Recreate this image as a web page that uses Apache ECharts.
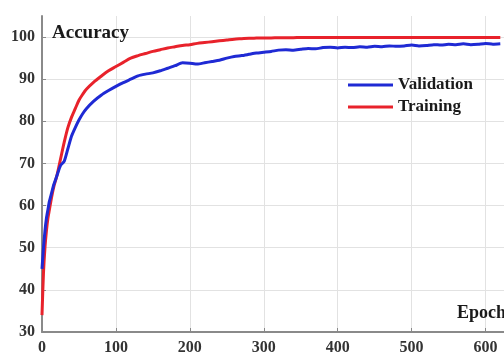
<!DOCTYPE html>
<html><head><meta charset="utf-8">
<script src="https://cdn.jsdelivr.net/npm/echarts@6/dist/echarts.min.js"></script>
<style>html,body{margin:0;padding:0;background:#fff}#c{width:504px;height:356px}</style>
</head><body><div id="c"></div>
<script>
var epochs = [0,2,4,6,8,10,13,16,20,25,30,35,40,45,50,55,60,70,80,90,100,110,120,130,140,150,160,170,180,190,200,210,220,230,240,250,260,270,280,290,300,310,320,330,340,350,360,370,380,390,400,410,420,430,440,450,460,470,480,490,500,510,520,530,540,550,560,570,580,590,600,610,620];
var trainAcc = [34,44,50,54,57,59,62,64.5,67,71,75,78.5,81,83,85,86.4,87.6,89.3,90.7,92,93,94,95,95.6,96.1,96.6,97,97.4,97.7,98,98.2,98.5,98.7,98.9,99.1,99.3,99.5,99.6,99.7,99.75,99.8,99.8,99.85,99.85,99.85,99.9,99.9,99.9,99.9,99.9,99.9,99.9,99.9,99.9,99.9,99.9,99.9,99.9,99.9,99.9,99.9,99.9,99.9,99.9,99.9,99.9,99.9,99.9,99.9,99.9,99.9,99.9,99.9];
var valAcc = [45,50,54,57,59,61,63,65,67,69.5,70.5,73.5,76.5,78.5,80.3,81.8,83,84.8,86.2,87.3,88.3,89.2,90,90.8,91.2,91.5,92,92.6,93.2,93.9,93.8,93.6,93.9,94.2,94.5,95,95.4,95.6,95.9,96.2,96.4,96.6,96.9,97,96.9,97.1,97.3,97.2,97.5,97.6,97.4,97.6,97.5,97.7,97.6,97.8,97.7,97.9,97.8,97.9,98.1,97.9,98,98.2,98.1,98.3,98.2,98.4,98.2,98.3,98.5,98.3,98.4];
var xTicks = [0,100,200,300,400,500,600];
var yTicks = [30,40,50,60,70,80,90,100];

function pairs(ys){ return epochs.map(function(e,i){ return [e, ys[i]]; }); }
var font = 'Liberation Serif';
var chart = echarts.init(document.getElementById('c'));
chart.setOption({
  animation:false,
  backgroundColor:'#fff',
  grid:{left:42, top:16, width:462, height:317, containLabel:false},
  legend:{
    orient:'vertical', left:343, top:71, itemWidth:45, itemHeight:3, itemGap:4,
    icon:'rect',
    textStyle:{fontFamily:font, fontWeight:'bold', fontSize:17, color:'#1a1a1a', lineHeight:18},
    data:['Validation','Training']
  },
  xAxis:{
    type:'value', min:0, max:625, interval:100,
    axisLine:{lineStyle:{color:'#8a8a8a', width:2}},
    axisTick:{inside:true, length:4, lineStyle:{color:'#888'}},
    axisLabel:{showMaxLabel:false, fontFamily:font, fontWeight:'bold', fontSize:16, color:'#333', margin:8,
      formatter:function(v){ return xTicks.indexOf(v)>=0 ? String(v) : ''; }},
    splitLine:{show:true, showMaxLine:false, lineStyle:{color:'#e2e2e2'}}
  },
  yAxis:{
    type:'value', min:30, max:105, interval:10,
    axisLine:{show:true, lineStyle:{color:'#8a8a8a', width:2}},
    axisTick:{show:true, inside:true, length:4, lineStyle:{color:'#888'}},
    axisLabel:{showMaxLabel:false, fontFamily:font, fontWeight:'bold', fontSize:16, color:'#333', margin:7,
      formatter:function(v){ return yTicks.indexOf(v)>=0 ? String(v) : ''; }},
    splitLine:{show:true, showMaxLine:false, lineStyle:{color:'#e2e2e2'}}
  },
  graphic:[
    {type:'text', left:52, top:24, z:100, style:{text:'Accuracy', font:'bold 19px "Liberation Serif"', fill:'#1a1a1a'}},
    {type:'text', left:457, top:304, z:100, style:{text:'Epoch', font:'bold 18px "Liberation Serif"', fill:'#1a1a1a'}}
  ],
  series:[
    {name:'Training', type:'line', data:pairs(trainAcc), showSymbol:false, smooth:0.3, lineStyle:{color:'#e8222b', width:3}, itemStyle:{color:'#e8222b'}, z:2},
    {name:'Validation', type:'line', data:pairs(valAcc), showSymbol:false, smooth:0.2, lineStyle:{color:'#1f2ad4', width:3}, itemStyle:{color:'#1f2ad4'}, z:3}
  ]
});
</script></body></html>
